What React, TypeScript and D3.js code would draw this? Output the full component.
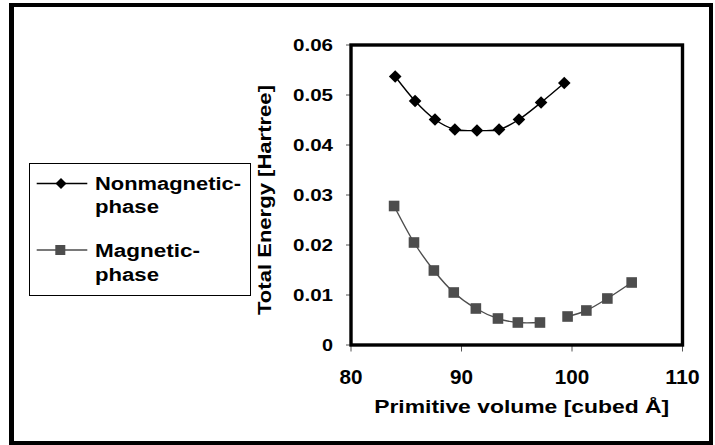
import React from "react";
import * as d3 from "d3";

const xTicks = [80, 90, 100, 110];
const yTicks = [0, 0.01, 0.02, 0.03, 0.04, 0.05, 0.06];
const yTickLabels = ["0", "0.01", "0.02", "0.03", "0.04", "0.05", "0.06"];

const nonmagVolume = [84.0, 85.8, 87.6, 89.4, 91.4, 93.4, 95.2, 97.2, 99.3];
const nonmagEnergy = [0.0537, 0.0488, 0.0451, 0.0431, 0.0429, 0.0431, 0.0451, 0.0485, 0.0524];

// null marks the break in the magnetic-phase line
const magVolume = [83.9, 85.7, 87.5, 89.3, 91.3, 93.3, 95.1, 97.1, 98.4, 99.6, 101.3, 103.2, 105.4];
const magEnergy = [0.0278, 0.0205, 0.0149, 0.0105, 0.0073, 0.0053, 0.0045, 0.0045, null, 0.0057, 0.0069, 0.0093, 0.0125];

const seriesNames = ["Nonmagnetic-", "Magnetic-"];

const W = 715;
const H = 445;
const plot = { left: 351, right: 682.5, top: 45, bottom: 345 };
const MAG = "#4d4d4d";
const FONT = "'Liberation Sans', Arial, sans-serif";

export default function App() {
  const x = d3.scaleLinear().domain([80, 110]).range([plot.left, plot.right]);
  const y = d3.scaleLinear().domain([0, 0.06]).range([plot.bottom, plot.top]);

  type P = { v: number; e: number | null };
  const nonmag: P[] = nonmagVolume.map((v, i) => ({ v, e: nonmagEnergy[i] }));
  const mag: P[] = magVolume.map((v, i) => ({ v, e: magEnergy[i] }));

  const line = d3
    .line<P>()
    .defined((d) => d.e != null)
    .x((d) => x(d.v))
    .y((d) => y(d.e as number))
    .curve(d3.curveCardinal.tension(0));

  const diamond = (cx: number, cy: number, r: number) =>
    `M${cx},${cy - r}L${cx + r},${cy}L${cx},${cy + r}L${cx - r},${cy}Z`;

  const xLabelWidth = (s: string) => s.length * 11.5;

  return (
    <svg
      width={W}
      height={H}
      style={{ position: "absolute", left: 0, top: 0, background: "#fff" }}
      fontFamily={FONT}
      fontWeight="bold"
    >
      <rect x={0} y={0} width={W} height={H} fill="#fff" />
      {/* outer frame */}
      <path d="M711,5 H11.5 V443 H711 Z" fill="none" stroke="#000" strokeWidth={4} />
      <line x1={11.5} x2={11.5} y1={3} y2={445} stroke="#000" strokeWidth={5} />

      {/* y ticks */}
      {yTicks.map((t, i) => (
        <g key={"yt" + i}>
          <line x1={plot.left - 5} x2={plot.left} y1={y(t)} y2={y(t)} stroke="#555" strokeWidth={1} />
          <text
            x={333}
            y={y(t) + 6}
            fontSize={16}
            textAnchor="end"
            textLength={yTickLabels[i].length === 1 ? 11 : 40}
            lengthAdjust="spacingAndGlyphs"
          >
            {yTickLabels[i]}
          </text>
        </g>
      ))}

      {/* x ticks */}
      {xTicks.map((t) => (
        <g key={"xt" + t}>
          <line x1={x(t)} x2={x(t)} y1={plot.bottom} y2={plot.bottom + 6.5} stroke="#555" strokeWidth={1} />
          <text
            x={x(t)}
            y={384}
            fontSize={20}
            textAnchor="middle"
            textLength={xLabelWidth(String(t))}
            lengthAdjust="spacingAndGlyphs"
          >
            {t}
          </text>
        </g>
      ))}

      {/* plot frame */}
      <rect
        x={plot.left}
        y={plot.top}
        width={plot.right - plot.left}
        height={plot.bottom - plot.top}
        fill="none"
        stroke="#000"
        strokeWidth={3.4}
      />

      {/* series lines */}
      <path d={line(nonmag) || ""} fill="none" stroke="#000" strokeWidth={1.4} />
      <path d={line(mag) || ""} fill="none" stroke={MAG} strokeWidth={1.4} />

      {/* markers */}
      {nonmag.map((d, i) => (
        <path key={"nm" + i} d={diamond(x(d.v), y(d.e as number), 6.3)} fill="#000" />
      ))}
      {mag
        .filter((d) => d.e != null)
        .map((d, i) => (
          <rect
            key={"m" + i}
            x={x(d.v) - 5.3}
            y={y(d.e as number) - 5.3}
            width={10.6}
            height={10.6}
            fill={MAG}
          />
        ))}

      {/* axis titles */}
      <text
        x={521.7}
        y={413}
        fontSize={18.5}
        textAnchor="middle"
        textLength={295}
        lengthAdjust="spacingAndGlyphs"
      >
        Primitive volume [cubed Å]
      </text>
      <text
        transform="translate(270.7,200) rotate(-90)"
        x={0}
        y={0}
        fontSize={18.5}
        textAnchor="middle"
        textLength={230}
        lengthAdjust="spacingAndGlyphs"
      >
        Total Energy [Hartree]
      </text>

      {/* legend */}
      <rect x={29.5} y={163.5} width={221} height={132} fill="#fff" stroke="#000" strokeWidth={1} />
      <line x1={36.7} x2={87.3} y1={183.5} y2={183.5} stroke="#000" strokeWidth={1.5} />
      <path d={diamond(61, 183.5, 5.5)} fill="#000" />
      <text x={95} y={190} fontSize={18} textLength={146} lengthAdjust="spacingAndGlyphs">
        {seriesNames[0]}
      </text>
      <text x={95} y={213} fontSize={18} textLength={64} lengthAdjust="spacingAndGlyphs">
        phase
      </text>
      <line x1={36.7} x2={87.3} y1={250} y2={250} stroke={MAG} strokeWidth={1.5} />
      <rect x={55.3} y={245} width={10} height={10} fill={MAG} />
      <text x={95} y={256.5} fontSize={18} textLength={105} lengthAdjust="spacingAndGlyphs">
        {seriesNames[1]}
      </text>
      <text x={95} y={281} fontSize={18} textLength={64} lengthAdjust="spacingAndGlyphs">
        phase
      </text>
    </svg>
  );
}
